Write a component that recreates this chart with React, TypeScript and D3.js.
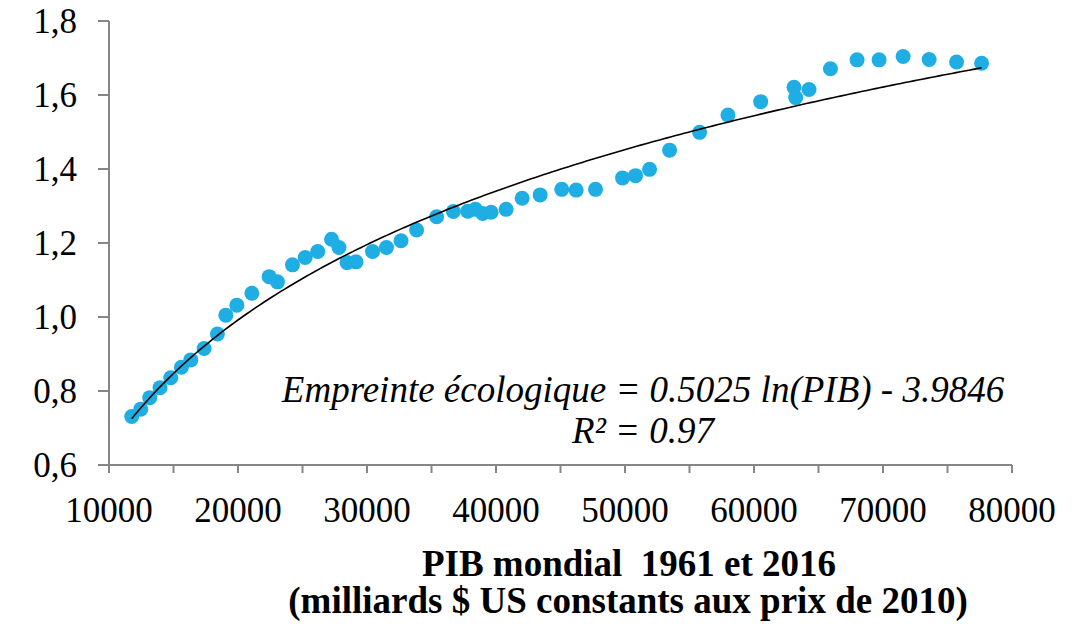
import React from "react";
import * as d3 from "d3";

const gdp = [11762, 12460, 13158, 13958, 14788, 15610, 16340, 17372, 18404, 19056, 19910, 21074, 22416, 23060, 24224, 25210, 26180, 27250, 27825, 28453, 29144, 30432, 31511, 32636, 33846, 35398, 36694, 37804, 38402, 38968, 39620, 40784, 42026, 43422, 45098, 46216, 47714, 49809, 50818, 51904, 53456, 55784, 57980, 60518, 63102, 63234, 64266, 65926, 67990, 69698, 71560, 73578, 75704, 77644];
const footprint = [0.731, 0.751, 0.782, 0.809, 0.836, 0.864, 0.884, 0.915, 0.954, 1.005, 1.032, 1.064, 1.109, 1.095, 1.141, 1.161, 1.177, 1.21, 1.188, 1.147, 1.149, 1.177, 1.188, 1.206, 1.235, 1.271, 1.285, 1.286, 1.291, 1.28, 1.283, 1.291, 1.321, 1.33, 1.345, 1.343, 1.345, 1.376, 1.382, 1.399, 1.451, 1.499, 1.546, 1.582, 1.621, 1.593, 1.615, 1.671, 1.695, 1.695, 1.704, 1.696, 1.689, 1.686];

const xTicks = [10000, 20000, 30000, 40000, 50000, 60000, 70000, 80000];
const xMinorTicks = [15000, 25000, 35000, 45000, 55000, 65000, 75000];
const yTicks = [0.6, 0.8, 1.0, 1.2, 1.4, 1.6, 1.8];

const trendA = 0.5025;
const trendB = -3.9846;

const equationText = "Empreinte écologique = 0.5025 ln(PIB) - 3.9846";
const r2Text = "R² = 0.97";
const titleLine1 = "PIB mondial\u00A0 1961 et 2016";
const titleLine2 = "(milliards $ US constants aux prix de 2010)";

const FONT = '"Liberation Serif", "Times New Roman", Times, serif';

export default function App() {
  const W = 1074, H = 624;
  const x = d3.scaleLinear().domain([10000, 80000]).range([109, 1012]);
  const y = d3.scaleLinear().domain([0.6, 1.8]).range([465, 21]);
  const axisColor = "#868686";

  const xMin = d3.min(gdp) as number;
  const xMax = d3.max(gdp) as number;
  const trendPts = d3.range(0, 201).map((i) => {
    const gx = xMin + ((xMax - xMin) * i) / 200;
    return [gx, trendA * Math.log(gx) + trendB] as [number, number];
  });
  const line = d3.line<[number, number]>().x((d) => x(d[0])).y((d) => y(d[1]));
  const fmt = (v: number) => v.toFixed(1).replace(".", ",");
  const ts = (size: number, extra: React.CSSProperties = {}): React.CSSProperties => ({ fontFamily: FONT, fontSize: size, ...extra });

  return (
    <svg width={W} height={H} style={{ position: "absolute", left: 0, top: 0, background: "#fff" }}>
      <line x1={x(10000)} x2={x(80000)} y1={y(0.6)} y2={y(0.6)} stroke={axisColor} strokeWidth={2} />
      <line x1={x(10000)} x2={x(10000)} y1={y(0.6)} y2={y(1.8)} stroke={axisColor} strokeWidth={2} />
      {[...xTicks, ...xMinorTicks].map((t) => (
        <line key={"xt" + t} x1={x(t)} x2={x(t)} y1={y(0.6)} y2={y(0.6) + 8} stroke={axisColor} strokeWidth={2} />
      ))}
      {yTicks.map((t) => (
        <line key={"yt" + t} x1={x(10000) - 11} x2={x(10000)} y1={y(t)} y2={y(t)} stroke={axisColor} strokeWidth={2} />
      ))}
      {xTicks.map((t) => (
        <text key={"xl" + t} x={x(t)} y={522} textAnchor="middle" style={ts(35)} fill="#000">{t}</text>
      ))}
      {yTicks.map((t) => (
        <text key={"yl" + t} x={77} y={y(t) + 12} textAnchor="end" style={ts(35)} fill="#000">{fmt(t)}</text>
      ))}
      {gdp.map((g, i) => (
        <circle key={"p" + i} cx={x(g)} cy={y(footprint[i])} r={7.5} fill="#1FAEE4" />
      ))}
      <path d={line(trendPts) || ""} fill="none" stroke="#000" strokeWidth={1.6} />
      <text x={643} y={402} textAnchor="middle" style={ts(37, { fontStyle: "italic" })} fill="#000">{equationText}</text>
      <text x={643} y={443} textAnchor="middle" style={ts(37, { fontStyle: "italic" })} fill="#000">{r2Text}</text>
      <text x={629} y={576} textAnchor="middle" style={ts(37, { fontWeight: "bold" })} fill="#000">{titleLine1}</text>
      <text x={628} y={613} textAnchor="middle" style={ts(37, { fontWeight: "bold" })} fill="#000">{titleLine2}</text>
    </svg>
  );
}
